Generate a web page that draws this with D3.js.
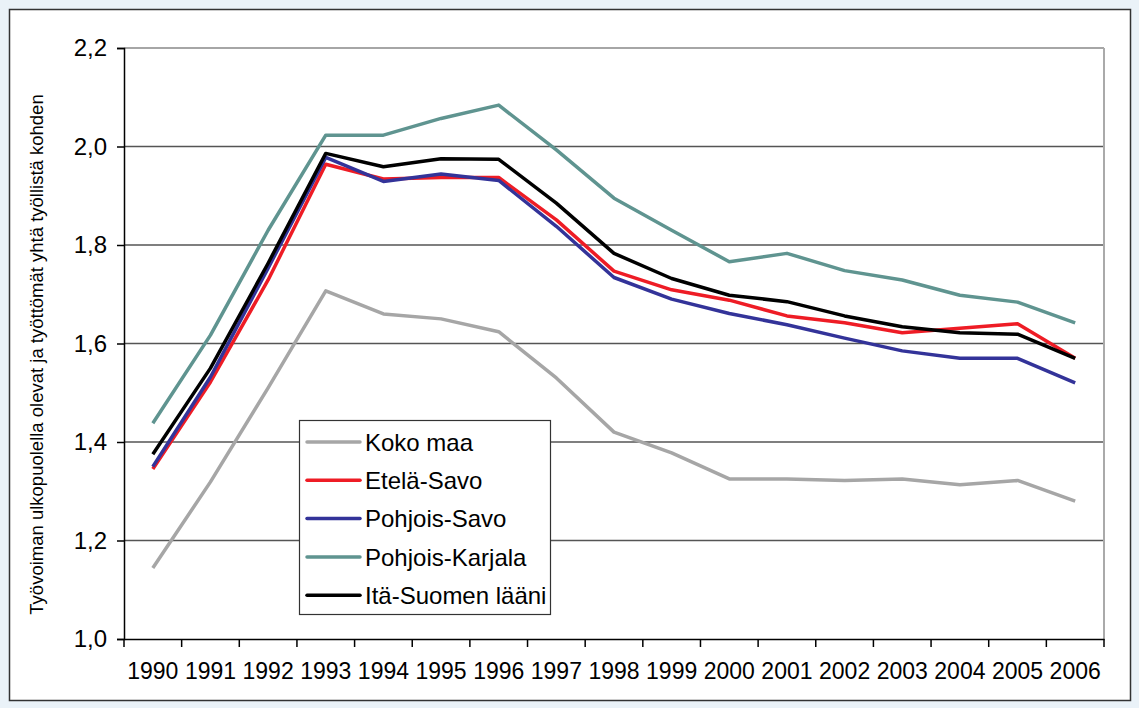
<!DOCTYPE html>
<html>
<head>
<meta charset="utf-8">
<script src="https://cdn.jsdelivr.net/npm/d3@7"></script>
<style>
  html, body { margin: 0; padding: 0; background: #eaf2f8; }
  svg { display: block; font-family: "Liberation Sans", Arial, sans-serif; }
</style>
</head>
<body>
<div id="chart"></div>
<script>
// Data
const years = ["1990","1991","1992","1993","1994","1995","1996","1997","1998","1999","2000","2001","2002","2003","2004","2005","2006"];
const kokoMaa = [1.144, 1.319, 1.51, 1.707, 1.66, 1.65, 1.624, 1.53, 1.42, 1.378, 1.325, 1.325, 1.322, 1.325, 1.313, 1.322, 1.28];
const etelaSavo = [1.345, 1.522, 1.729, 1.964, 1.934, 1.937, 1.937, 1.851, 1.747, 1.709, 1.688, 1.656, 1.642, 1.622, 1.631, 1.640, 1.570];
const pohjoisSavo = [1.35, 1.532, 1.753, 1.978, 1.929, 1.944, 1.931, 1.838, 1.734, 1.690, 1.661, 1.638, 1.611, 1.585, 1.570, 1.570, 1.520];
const pohjoisKarjala = [1.438, 1.617, 1.830, 2.023, 2.023, 2.057, 2.084, 1.993, 1.895, 1.830, 1.766, 1.783, 1.748, 1.729, 1.698, 1.684, 1.642];
const itaSuomi = [1.375, 1.55, 1.763, 1.986, 1.959, 1.975, 1.974, 1.885, 1.783, 1.732, 1.698, 1.685, 1.656, 1.634, 1.622, 1.619, 1.570];
const yTicks = [1.0, 1.2, 1.4, 1.6, 1.8, 2.0, 2.2];

const series = [
    { name: "Koko maa", values: kokoMaa, color: "#a6a6a6" },
    { name: "Etelä-Savo", values: etelaSavo, color: "#ee1c25" },
    { name: "Pohjois-Savo", values: pohjoisSavo, color: "#333399" },
    { name: "Pohjois-Karjala", values: pohjoisKarjala, color: "#5f9490" },
    { name: "Itä-Suomen lääni", values: itaSuomi, color: "#000000" }
];

const width = 1139;
const height = 708;
const plot = { left: 124, right: 1104, top: 48, bottom: 639 };

const svg = d3.select("#chart")
    .append("svg")
    .attr("width", width)
    .attr("height", height);

// white frame
svg.append("rect")
    .attr("x", 9.5)
    .attr("y", 9.5)
    .attr("width", 1121)
    .attr("height", 691)
    .attr("fill", "#fff")
    .attr("stroke", "#333")
    .attr("stroke-width", 1.5);

const xScale = d3.scaleBand()
    .domain(years)
    .range([plot.left, plot.right])
    .padding(0);

const yScale = d3.scaleLinear()
    .domain([1.0, 2.2])
    .range([plot.bottom, plot.top]);

const fmt = d3.formatLocale({ decimal: ",", thousands: " ", grouping: [3], currency: ["", "€"] }).format(".1f");

// grid lines
svg.append("g")
    .selectAll("line")
    .data(yTicks.filter(d => d > 1.0))
    .enter()
    .append("line")
    .attr("x1", plot.left)
    .attr("x2", plot.right)
    .attr("y1", d => yScale(d))
    .attr("y2", d => yScale(d))
    .attr("stroke", d => d === 2.2 ? "#888" : "#555")
    .attr("stroke-width", 1.5);

// right border of plot
svg.append("line")
    .attr("x1", plot.right)
    .attr("x2", plot.right)
    .attr("y1", plot.top)
    .attr("y2", plot.bottom)
    .attr("stroke", "#aaa")
    .attr("stroke-width", 2);

// y axis
const yAxis = d3.axisLeft(yScale)
    .tickValues(yTicks)
    .tickFormat(fmt)
    .tickSize(7)
    .tickPadding(10);

const gy = svg.append("g")
    .attr("class", "y-axis")
    .attr("transform", `translate(${plot.left},0)`)
    .call(yAxis);
gy.select(".domain").attr("stroke", "#000").attr("stroke-width", 1.5);
gy.selectAll(".tick line").attr("stroke", "#000").attr("stroke-width", 1.5);
gy.selectAll(".tick text")
    .attr("fill", "#000")
    .style("font-size", "24px")
    .style("font-family", "Liberation Sans, Arial, sans-serif");

// x axis: labels at centers, ticks at category boundaries
const xAxis = d3.axisBottom(xScale).tickSize(0).tickPadding(24);
const gx = svg.append("g")
    .attr("class", "x-axis")
    .attr("transform", `translate(0,${plot.bottom})`)
    .call(xAxis);
gx.select(".domain").attr("stroke", "#000").attr("stroke-width", 1.5);
gx.selectAll(".tick text")
    .attr("fill", "#000")
    .style("font-size", "23px")
    .style("font-family", "Liberation Sans, Arial, sans-serif");

const bounds = years.map(d => xScale(d)).concat([xScale.range()[1]]);
gx.selectAll(".bound")
    .data(bounds)
    .enter()
    .append("line")
    .attr("class", "bound")
    .attr("x1", d => d)
    .attr("x2", d => d)
    .attr("y1", 0)
    .attr("y2", 8)
    .attr("stroke", "#000")
    .attr("stroke-width", 1.5);

// y axis title
svg.append("text")
    .attr("transform", `translate(43,${(plot.top + plot.bottom) / 2 + 11}) rotate(-90)`)
    .attr("text-anchor", "middle")
    .style("font-size", "18.5px")
    .text("Työvoiman ulkopuolella olevat ja työttömät yhtä työllistä kohden");

// lines
const line = d3.line()
    .x((d, i) => xScale(years[i]) + xScale.bandwidth() / 2)
    .y(d => yScale(d));

svg.append("g")
    .selectAll("path")
    .data(series)
    .enter()
    .append("path")
    .attr("d", d => line(d.values))
    .attr("fill", "none")
    .attr("stroke", d => d.color)
    .attr("stroke-width", 3.5)
    .attr("stroke-linejoin", "round");

// legend
const legend = svg.append("g").attr("transform", "translate(299,420)");
legend.append("rect")
    .attr("x", 0.5)
    .attr("y", 0.5)
    .attr("width", 251)
    .attr("height", 194)
    .attr("fill", "#fff")
    .attr("stroke", "#333")
    .attr("stroke-width", 1.2);

const items = legend.selectAll(".item")
    .data(series)
    .enter()
    .append("g")
    .attr("class", "item")
    .attr("transform", (d, i) => `translate(0,${22 + i * 38.3})`);

items.append("line")
    .attr("x1", 8)
    .attr("x2", 61)
    .attr("stroke", d => d.color)
    .attr("stroke-width", 3.5)
    .attr("stroke-linecap", "round");

items.append("text")
    .attr("x", 66)
    .attr("dy", "0.36em")
    .style("font-size", "24px")
    .text(d => d.name);
</script>
</body>
</html>
